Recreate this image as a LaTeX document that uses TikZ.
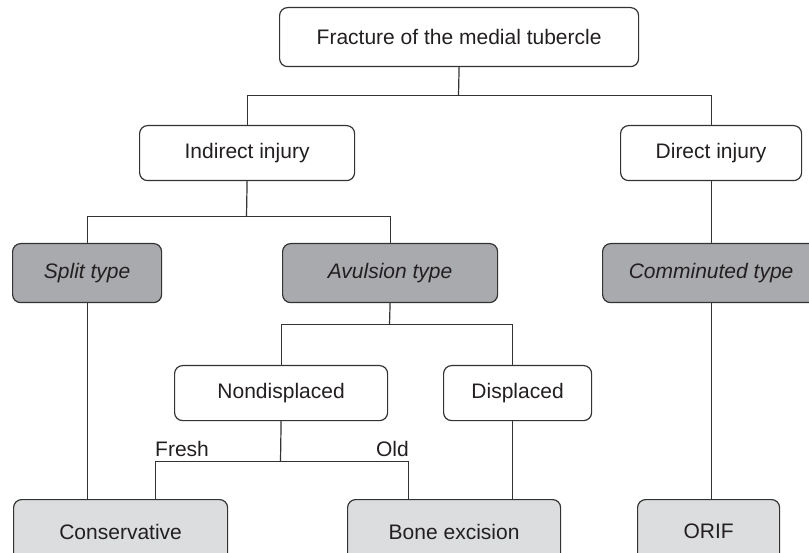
\documentclass[tikz,border=0pt]{standalone}
\usepackage{fontspec}
\setmainfont{Liberation Sans}
\definecolor{txt}{HTML}{231F20}
\definecolor{darkg}{HTML}{A9AAAD}
\definecolor{lightg}{HTML}{DCDDDF}
\definecolor{edge}{HTML}{333333}
\begin{document}
\begin{tikzpicture}[x=1pt,y=-1pt,
  box/.style={draw=edge,line width=1.2pt,rounded corners=8pt,fill=white,text=txt,
    font=\fontsize{21}{24}\selectfont,inner sep=0pt,anchor=north west},
  dbox/.style={box,fill=darkg,font=\fontsize{21}{24}\selectfont\itshape},
  lbox/.style={box,fill=lightg},
  conn/.style={draw=edge,line width=1.2pt},
  lab/.style={text=txt,font=\fontsize{21}{24}\selectfont,inner sep=0pt}]
\useasboundingbox (0,0) rectangle (809,553);
\clip (0,0) rectangle (809,553);
% nodes
\node[box,minimum width=359pt,minimum height=59pt] (top) at (279,7) {Fracture of the medial tubercle};
\node[box,minimum width=215pt,minimum height=55pt] (ind) at (139,125) {Indirect injury};
\node[box,minimum width=181pt,minimum height=55pt] (dir) at (620,125) {Direct injury};
\node[dbox,minimum width=149pt,minimum height=59pt] (split) at (12,243) {Split type};
\node[dbox,minimum width=215pt,minimum height=59pt] (avul) at (282,243) {Avulsion type};
\node[dbox,minimum width=217pt,minimum height=59pt] (comm) at (602,243) {Comminuted type};
\node[box,minimum width=213pt,minimum height=55pt] (nond) at (174,365) {Nondisplaced};
\node[box,minimum width=148pt,minimum height=55pt] (disp) at (443,365) {Displaced};
\node[lbox,minimum width=214pt,minimum height=64pt] (cons) at (13,499) {Conservative};
\node[lbox,minimum width=213pt,minimum height=64pt] (bone) at (347,499) {Bone excision};
\node[lbox,minimum width=142pt,minimum height=64pt] (orif) at (637,499) {ORIF};
% junction coordinates
\coordinate (j1) at (458.5,95.5);
\coordinate (j2) at (246.5,216.5);
\coordinate (j3) at (389.5,324.5);
\coordinate (j4) at (280.5,461.5);
\coordinate (fr) at (155.5,499);
\coordinate (ol) at (408.5,499);
\coordinate (dx) at (512.5,420);
\coordinate (dxt) at (512.5,365);
% connectors
\draw[conn] (top.south) -- (j1);
\draw[conn] (ind.north) |- (j1) -| (comm.north |- dir.north);
\draw[conn] (ind.south) -- (j2);
\draw[conn] (split.north) |- (j2) -| (avul.north);
\draw[conn] (avul.south) -- (j3);
\draw[conn] (nond.north) |- (j3) -| (dxt);
\draw[conn] (nond.south) -- (j4);
\draw[conn] (fr) |- (j4) -| (ol);
\draw[conn] (split.south) -- (split.south |- cons.north);
\draw[conn] (dx) -- (dx |- bone.north);
\draw[conn] (comm.south) -- (comm.south |- orif.north);
\draw[conn] (dir.south) -- (dir.south |- comm.north);
% labels
\node[lab,anchor=base west] (fresh) at (155,456) {Fresh};
\node[lab,anchor=base east] (old) at (409,456) {Old};
\end{tikzpicture}
\end{document}
